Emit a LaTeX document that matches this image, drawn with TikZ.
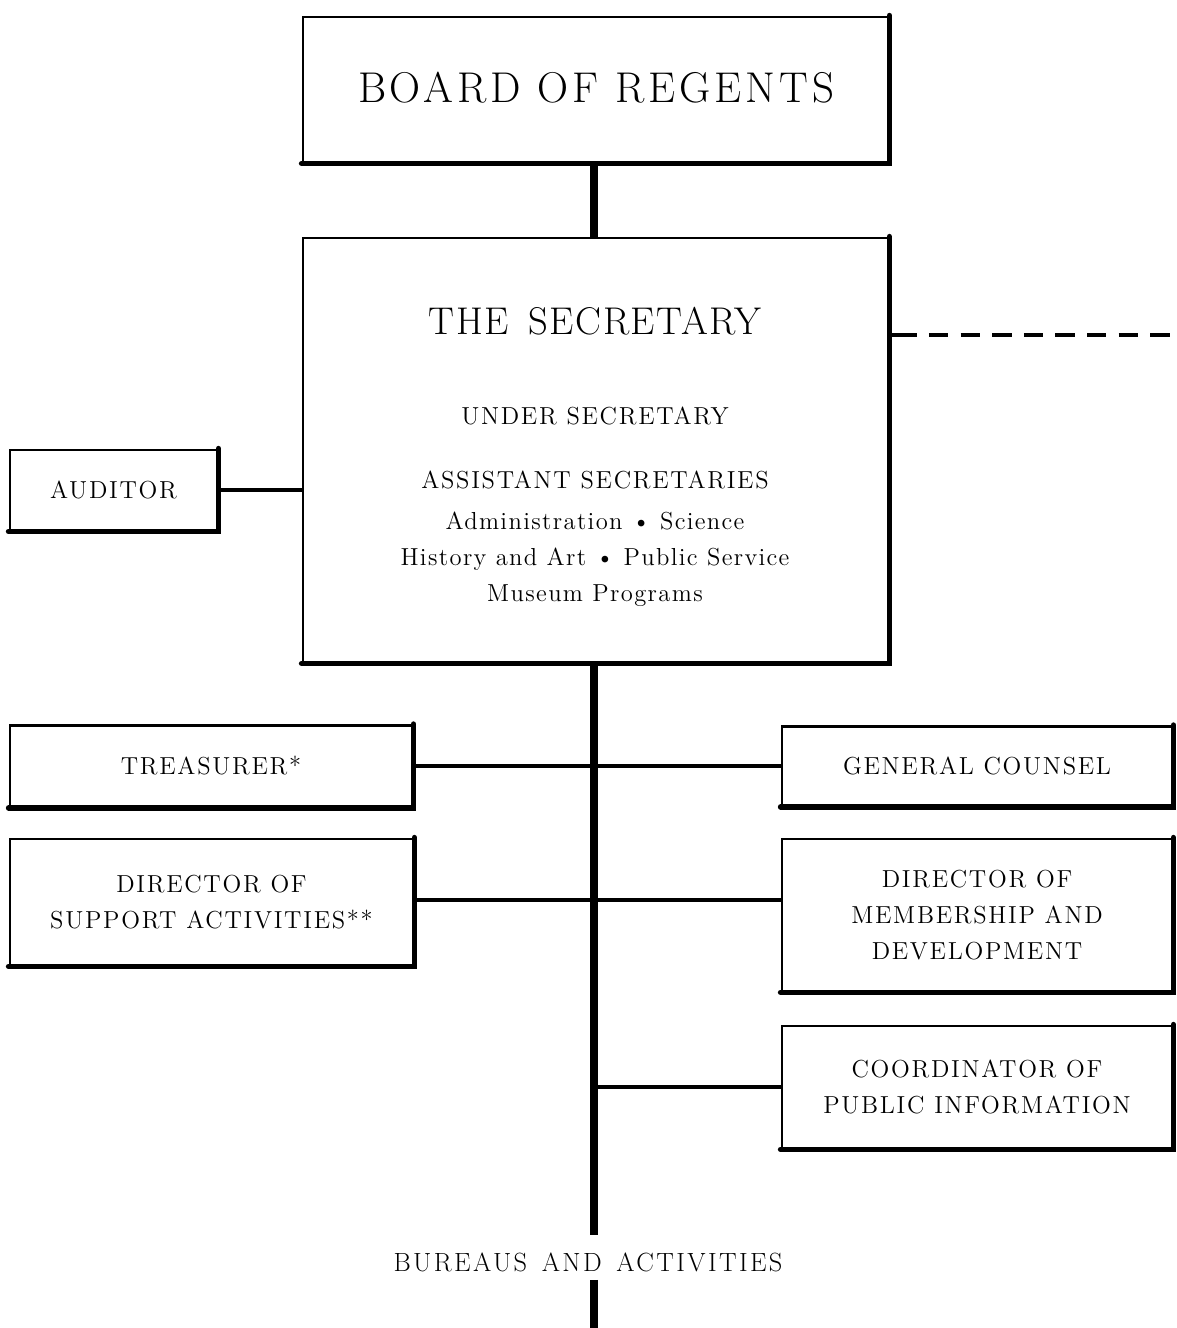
\documentclass[tikz,border=0pt]{standalone}
\usepackage{fontspec}
\setmainfont{Latin Modern Roman}
\usetikzlibrary{calc}
\tikzset{
  orgbox/.style={draw, line width=1.6pt, inner sep=0pt, align=center,
    append after command={\pgfextra{\draw[line width=3.2pt, line cap=round]
      (\tikzlastnode.north east) -- (\tikzlastnode.south east) -- (\tikzlastnode.south west);}}},
  trunk/.style={line width=4pt},
  branch/.style={line width=1.8pt},
  bigtext/.style={font=\fontsize{22}{26}\selectfont\addfontfeature{LetterSpace=4}},
  boxtext/.style={font=\fontsize{14}{20.5}\selectfont\addfontfeature{LetterSpace=7}, align=center},
  smalltext/.style={font=\fontsize{14}{20.5}\selectfont\addfontfeature{LetterSpace=5.5}, align=center}
}
\begin{document}
\begin{tikzpicture}[x=0.02cm, y=-0.02cm]
            \useasboundingbox (0,0) rectangle (1176,1328);
            % boxes
            \node[orgbox, minimum width=11.7cm, minimum height=2.9cm] (board) at (595.5,89.5) {};
            \node[font=\fontsize{24.5}{28}\selectfont\addfontfeature{LetterSpace=9}] (boardtext) at (596,88) {BOARD OF REGENTS};
            \node[orgbox, minimum width=11.7cm, minimum height=8.48cm] (sec) at (595.5,450) {};
            \node[bigtext] (sectitle) at (595,321) {THE\, SECRETARY};
            \node[boxtext] (under) at (595,416) {UNDER SECRETARY};
            \node[boxtext] (assist) at (595,480) {ASSISTANT SECRETARIES};
            \node[smalltext, anchor=north] (areas) at (595,506) {Administration \textbullet{} Science\\History and Art \textbullet{} Public Service\\Museum Programs};
            \node[orgbox, boxtext, minimum width=4.14cm, minimum height=1.6cm] (auditor) at (113.5,490) {AUDITOR};
            \node[orgbox, boxtext, minimum width=8.04cm, minimum height=1.62cm] (treas) at (211,766) {TREASURER*};
            \node[orgbox, boxtext, minimum width=8.06cm, minimum height=2.52cm] (support) at (211.5,902) {DIRECTOR OF\\SUPPORT ACTIVITIES**};
            \node[orgbox, boxtext, minimum width=7.8cm, minimum height=1.58cm] (counsel) at (977,766) {GENERAL COUNSEL};
            \node[orgbox, boxtext, minimum width=7.8cm, minimum height=3.04cm] (member) at (977,915) {DIRECTOR OF\\MEMBERSHIP AND\\DEVELOPMENT};
            \node[orgbox, boxtext, minimum width=7.8cm, minimum height=2.44cm] (pubinfo) at (977,1087) {COORDINATOR OF\\PUBLIC INFORMATION};
            \node[boxtext, font=\fontsize{15}{20}\selectfont\addfontfeature{LetterSpace=9}] (bureaus) at (588,1262) {BUREAUS\, AND\, ACTIVITIES};
            % connectors
            \coordinate (trunkend) at (594,1235);
            \coordinate (bottomend) at (594,1328);
            \coordinate (dashend) at (1176,335);
            \draw[trunk] (board.south -| trunkend) -- (sec.north -| trunkend);
            \draw[trunk] (sec.south -| trunkend) -- (trunkend);
            \draw[trunk] (bureaus.south -| bottomend) ++(0,2) -- (bottomend);
            \draw[branch] (auditor.east) -- (auditor.east -| sec.west);
            \draw[branch] (treas.east) -- (treas.east -| counsel.west);
            \draw[branch] (support.east |- 0,900) -- (counsel.west |- 0,900);
            \draw[branch] (pubinfo.west) -- (pubinfo.west -| trunkend);
            \draw[line width=2.4pt, dash pattern=on 11pt off 7pt] (sec.east |- dashend) ++(8,0) -- (dashend);
            \draw[branch] (sec.east |- dashend) -- ++(8,0);
        \end{tikzpicture}
\end{document}
